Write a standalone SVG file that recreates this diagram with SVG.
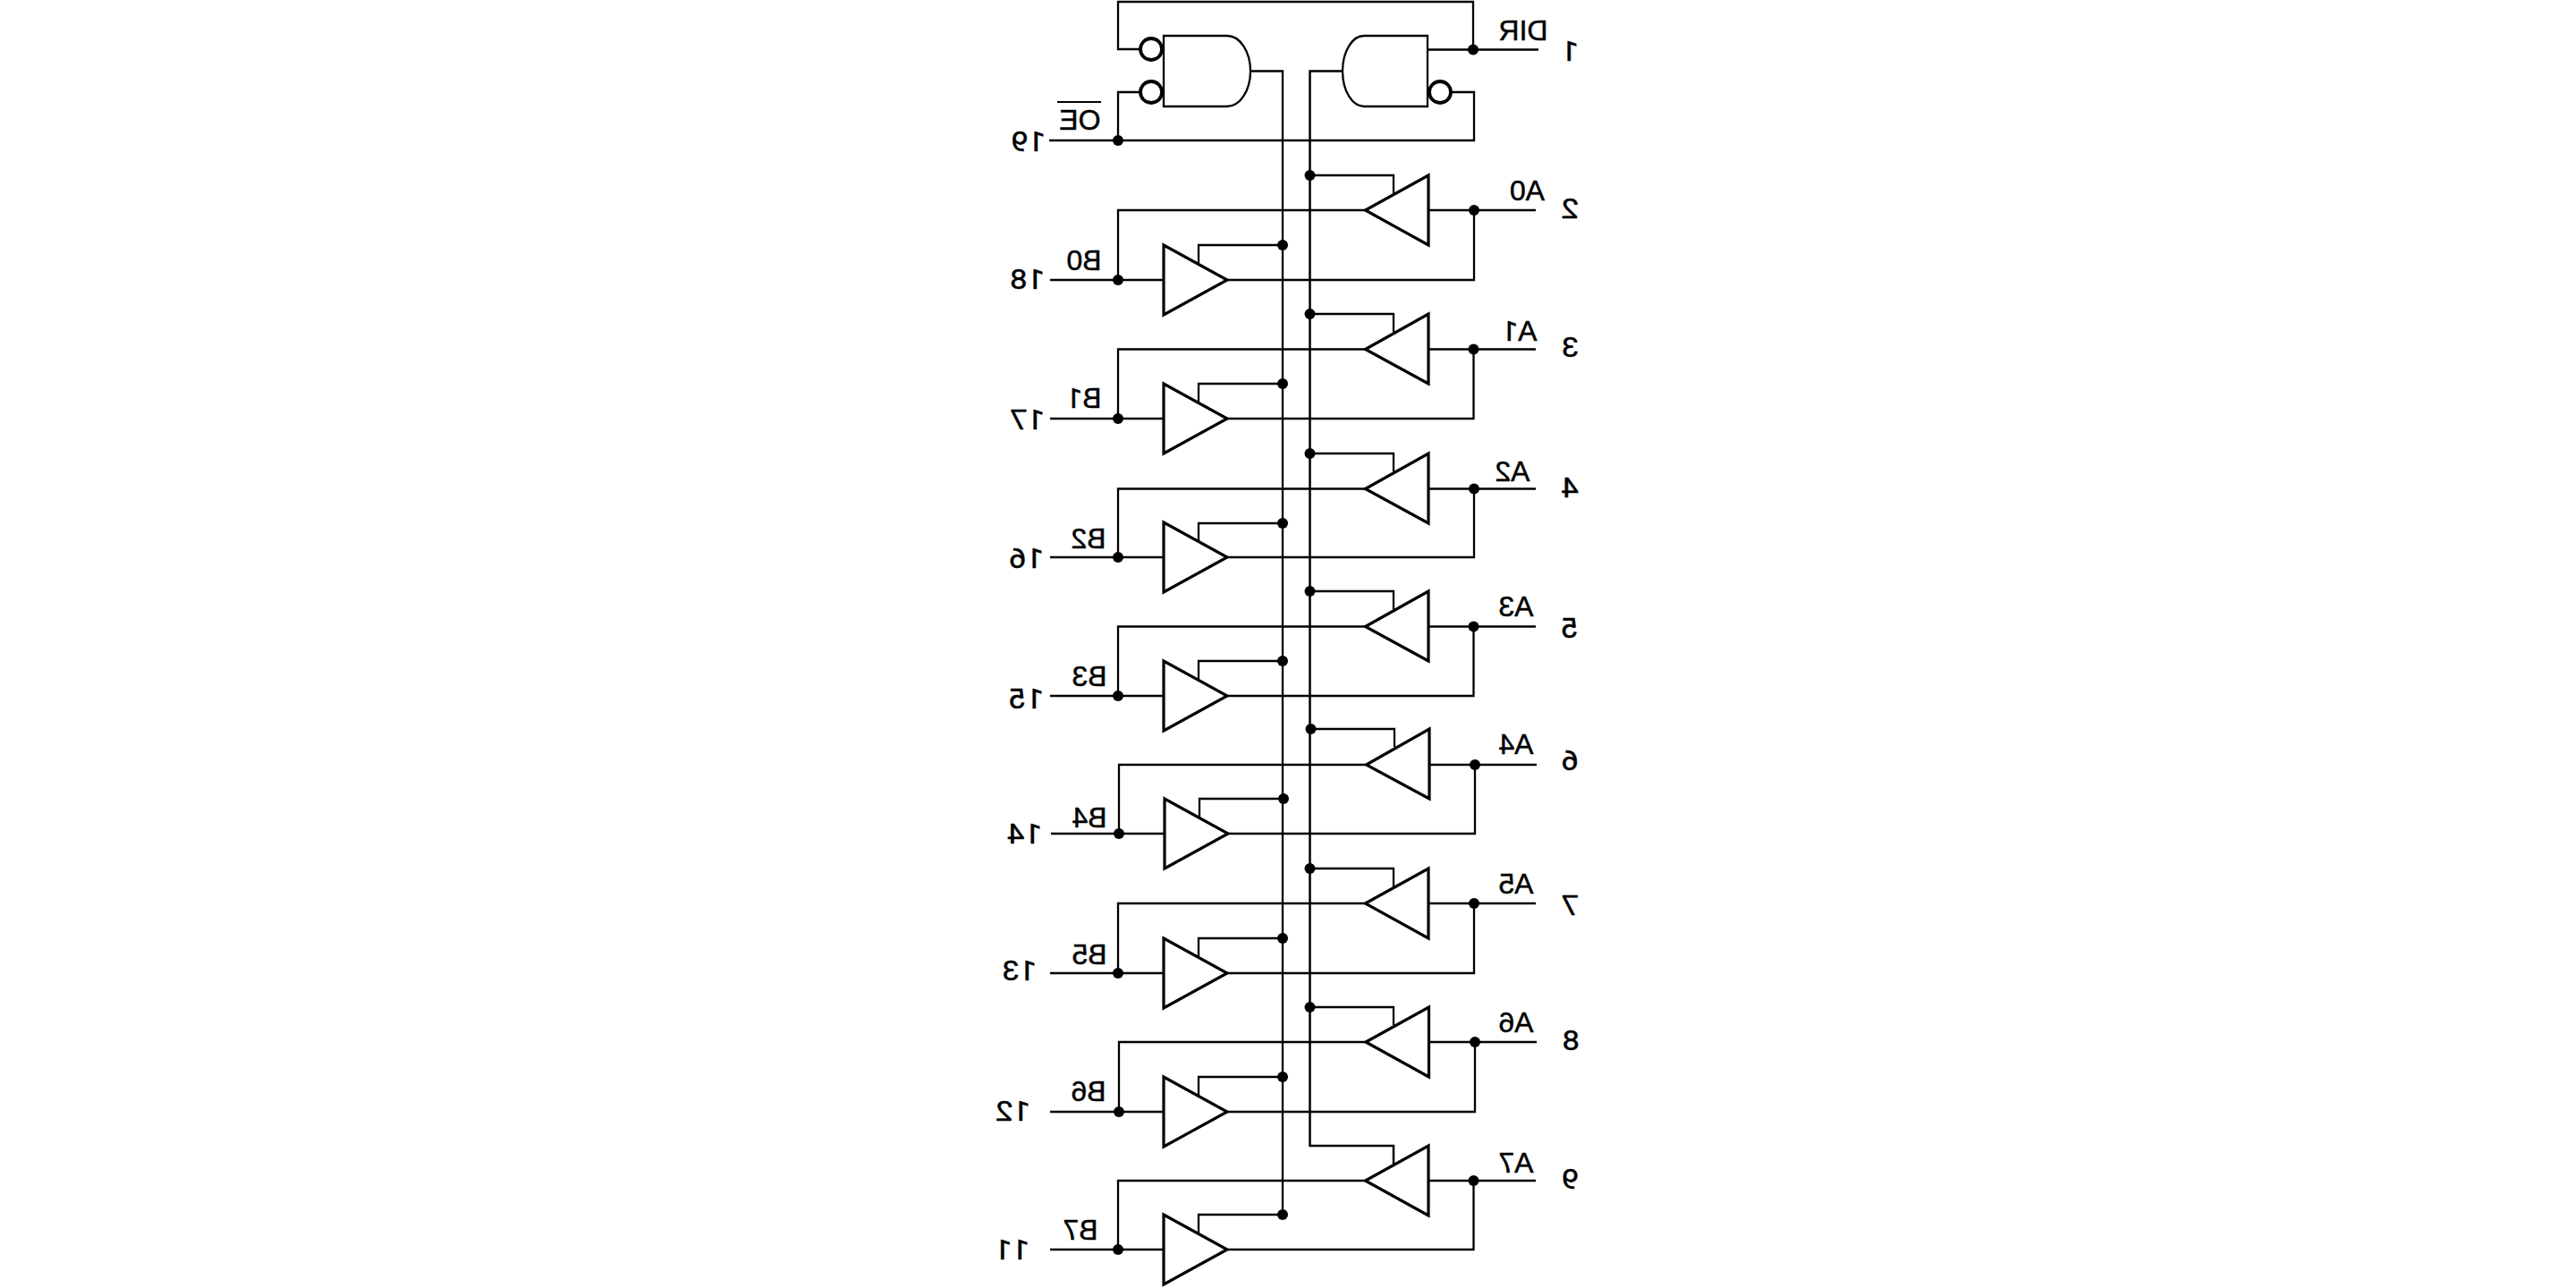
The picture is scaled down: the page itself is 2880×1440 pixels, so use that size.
<svg xmlns="http://www.w3.org/2000/svg" width="2880" height="1440" viewBox="0 0 2880 1440">
<style>
.w{fill:none;stroke:#000;stroke-width:2.3}
.g{fill:#fff;stroke:#000;stroke-width:2.3}
.b{fill:#fff;stroke:#000;stroke-width:3.2;stroke-linejoin:miter}
.c{fill:#fff;stroke:#000;stroke-width:3.8}
.d{fill:#000}
.t{font-family:"Liberation Sans",Arial,sans-serif;font-size:32px;fill:#000;stroke:#000;stroke-width:.5}
.n{font-family:Roboto,"Liberation Sans",sans-serif;font-size:32px;fill:#000;stroke:#000;stroke-width:.5}
</style>
<rect width="2880" height="1440" fill="#fff"/>
<g id="connectors" class="w">
<path d="M1301 55H1250V2H1647V55.500M1596 55.500H1720M1301 103H1250V157M1173 157H1648V103H1623"/>
<path d="M1398 79.500H1434V1358"/>
<path stroke-width="2.500" d="M1501 79.500H1464.500V1281H1558V1301"/>
<path d="M1174 313H1301M1372 313H1648V235M1717 235H1597M1526.500 235H1250V313M1464.500 196H1558V216M1434 274H1340V294"/>
<path d="M1174 468H1301M1372 468H1647.500V390.500M1717 390.500H1597M1526.500 390.500H1250V468M1464.500 351H1558V371M1434 429H1340V449"/>
<path d="M1174 623H1301M1372 623H1648V546.500M1717 546.500H1597M1526.500 546.500H1250V623M1464.500 507H1558V527M1434 585H1340V605"/>
<path d="M1174 778H1301M1372 778H1647.500V700.500M1717 700.500H1597M1526.500 700.500H1250V778M1464.500 661H1558V681M1434 739H1340V759"/>
<path d="M1175 932H1302M1373 932H1649V855M1718 855H1598M1527.500 855H1251V932M1465.500 815H1559V835M1435 893H1341V913"/>
<path d="M1174 1088H1301M1372 1088H1648V1010M1717 1010H1597M1526.500 1010H1250V1088M1464.500 971H1558V991M1434 1049H1340V1069"/>
<path d="M1174 1243H1301M1372 1243H1649V1165M1718 1165H1597M1526.500 1165H1251V1243M1464.500 1126H1558V1146M1434 1204H1340V1224"/>
<path d="M1174 1397H1301M1372 1397H1647.500V1320M1717 1320H1597M1526.500 1320H1250V1397M1434 1358H1340V1378"/>
</g>
<g id="gate-oe-a">
<path class="g" d="M1301 40H1372A26 39.500 0 0 1 1372 119H1301Z"/>
<circle class="c" cx="1287" cy="55" r="12"/>
<circle class="c" cx="1287" cy="103" r="12"/>
</g>
<g id="gate-oe-b">
<path class="g" d="M1596 40H1525A24 39.500 0 0 0 1525 119H1596Z"/>
<circle class="c" cx="1610" cy="103" r="12"/>
</g>
<g id="buffer-a0"><polygon class="b" points="1597,196 1597,274 1526.500,235"/></g>
<g id="buffer-b0"><polygon class="b" points="1301,274 1301,352 1372,313"/></g>
<g id="buffer-a1"><polygon class="b" points="1597,351 1597,429 1526.500,390.500"/></g>
<g id="buffer-b1"><polygon class="b" points="1301,429 1301,507 1372,468"/></g>
<g id="buffer-a2"><polygon class="b" points="1597,507 1597,585 1526.500,546.500"/></g>
<g id="buffer-b2"><polygon class="b" points="1301,584 1301,662 1372,623"/></g>
<g id="buffer-a3"><polygon class="b" points="1597,661 1597,739 1526.500,700.500"/></g>
<g id="buffer-b3"><polygon class="b" points="1301,739 1301,817 1372,778"/></g>
<g id="buffer-a4"><polygon class="b" points="1598,815 1598,893 1527.500,855"/></g>
<g id="buffer-b4"><polygon class="b" points="1302,893 1302,971 1373,932"/></g>
<g id="buffer-a5"><polygon class="b" points="1597,971 1597,1049 1526.500,1010"/></g>
<g id="buffer-b5"><polygon class="b" points="1301,1049 1301,1127 1372,1088"/></g>
<g id="buffer-a6"><polygon class="b" points="1597.500,1126 1597.500,1204 1527,1165"/></g>
<g id="buffer-b6"><polygon class="b" points="1301,1204 1301,1282 1372,1243"/></g>
<g id="buffer-a7"><polygon class="b" points="1597,1281 1597,1359 1526.500,1320"/></g>
<g id="buffer-b7"><polygon class="b" points="1301,1358 1301,1436 1372,1397"/></g>
<g id="junctions" class="d">
<circle cx="1647" cy="55.500" r="6"/><circle cx="1250" cy="157" r="6"/>
<circle cx="1648" cy="235" r="6"/><circle cx="1250" cy="313" r="6"/><circle cx="1464.500" cy="196" r="6"/><circle cx="1434" cy="274" r="6"/>
<circle cx="1647.500" cy="390.500" r="6"/><circle cx="1250" cy="468" r="6"/><circle cx="1464.500" cy="351" r="6"/><circle cx="1434" cy="429" r="6"/>
<circle cx="1648" cy="546.500" r="6"/><circle cx="1250" cy="623" r="6"/><circle cx="1464.500" cy="507" r="6"/><circle cx="1434" cy="585" r="6"/>
<circle cx="1647.500" cy="700.500" r="6"/><circle cx="1250" cy="778" r="6"/><circle cx="1464.500" cy="661" r="6"/><circle cx="1434" cy="739" r="6"/>
<circle cx="1649" cy="855" r="6"/><circle cx="1251" cy="932" r="6"/><circle cx="1465.500" cy="815" r="6"/><circle cx="1435" cy="893" r="6"/>
<circle cx="1648" cy="1010" r="6"/><circle cx="1250" cy="1088" r="6"/><circle cx="1464.500" cy="971" r="6"/><circle cx="1434" cy="1049" r="6"/>
<circle cx="1649" cy="1165" r="6"/><circle cx="1251" cy="1243" r="6"/><circle cx="1464.500" cy="1126" r="6"/><circle cx="1434" cy="1204" r="6"/>
<circle cx="1647.500" cy="1320" r="6"/><circle cx="1250" cy="1397" r="6"/><circle cx="1434" cy="1358" r="6"/>
</g>
<g id="labels">
<text class="t" transform="translate(1730.500,45) scale(-1,1)">DIR</text>
<text class="n" transform="translate(1765,68) scale(-1.08,1)">1</text>
<text class="t" transform="translate(1230.500,144.500) scale(-1,1)">OE</text>
<line x1="1182" y1="114" x2="1231" y2="114" stroke="#000" stroke-width="2"/>
<text class="n" transform="translate(1169,169) scale(-1.08,1)">19</text>
<text class="t" transform="translate(1727,224) scale(-1,1)">A0</text>
<text class="n" transform="translate(1765,243.500) scale(-1.08,1)">2</text>
<text class="t" transform="translate(1231.500,302) scale(-1,1)">B0</text>
<text class="n" transform="translate(1168,323) scale(-1.08,1)">18</text>
<text class="t" transform="translate(1718.500,381) scale(-1,1)">A<tspan class="n">1</tspan></text>
<text class="n" transform="translate(1765,399) scale(-1.08,1)">3</text>
<text class="t" transform="translate(1231.500,456) scale(-1,1)">B<tspan class="n">1</tspan></text>
<text class="n" transform="translate(1168,480) scale(-1.08,1)">17</text>
<text class="t" transform="translate(1710.500,538) scale(-1,1)">A2</text>
<text class="n" transform="translate(1765,556) scale(-1.08,1)">4</text>
<text class="t" transform="translate(1236.500,613) scale(-1,1)">B2</text>
<text class="n" transform="translate(1167,635) scale(-1.08,1)">16</text>
<text class="t" transform="translate(1714.500,689) scale(-1,1)">A3</text>
<text class="n" transform="translate(1765,713) scale(-1.08,1)">5</text>
<text class="t" transform="translate(1237.500,767) scale(-1,1)">B3</text>
<text class="n" transform="translate(1167,792) scale(-1.08,1)">15</text>
<text class="t" transform="translate(1714.500,843) scale(-1,1)">A4</text>
<text class="n" transform="translate(1765,861) scale(-1.08,1)">6</text>
<text class="t" transform="translate(1237.500,925) scale(-1,1)">B4</text>
<text class="n" transform="translate(1165,943) scale(-1.08,1)">14</text>
<text class="t" transform="translate(1714.500,999) scale(-1,1)">A5</text>
<text class="n" transform="translate(1765,1023) scale(-1.08,1)">7</text>
<text class="t" transform="translate(1237.500,1078) scale(-1,1)">B5</text>
<text class="n" transform="translate(1159,1096) scale(-1.08,1)">13</text>
<text class="t" transform="translate(1714.500,1154) scale(-1,1)">A6</text>
<text class="n" transform="translate(1766,1174) scale(-1.08,1)">8</text>
<text class="t" transform="translate(1236.500,1231) scale(-1,1)">B6</text>
<text class="n" transform="translate(1152,1253) scale(-1.08,1)">12</text>
<text class="t" transform="translate(1714.500,1311) scale(-1,1)">A7</text>
<text class="n" transform="translate(1765,1329) scale(-1.08,1)">9</text>
<text class="t" transform="translate(1227.500,1386) scale(-1,1)">B7</text>
<text class="n" transform="translate(1151,1408) scale(-1.08,1)">11</text>
</g>
</svg>
